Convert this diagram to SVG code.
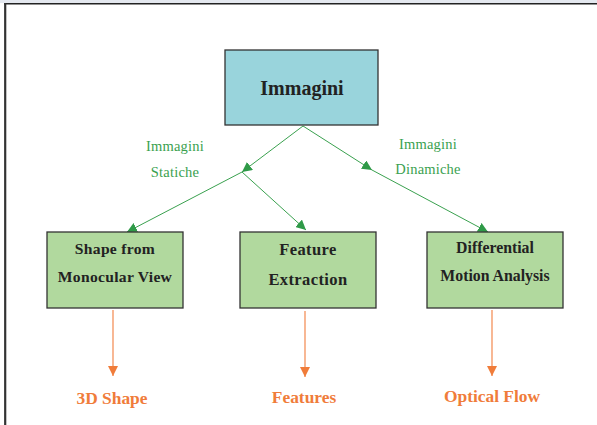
<svg xmlns="http://www.w3.org/2000/svg" width="597" height="425" viewBox="0 0 597 425">
<style>
.box{stroke:#333;stroke-width:1.3}
.top{fill:#99d4dc}
.grn{fill:#b1d99e}
.t{font-family:"Liberation Serif","Times New Roman",serif;font-weight:bold;fill:#222;text-anchor:middle}
.lbl{font-family:"Liberation Serif","Times New Roman",serif;font-size:14.5px;fill:#3aa14f;text-anchor:middle;letter-spacing:0.2px}
.out{font-family:"Liberation Serif","Times New Roman",serif;font-weight:bold;font-size:17.4px;fill:#f07c3a;text-anchor:middle}
.g{stroke:#3aa14f;stroke-width:1;fill:none}
.o{stroke:#f6a67a;stroke-width:1.6;fill:none}
</style>
<defs>
<marker id="ga" viewBox="0 0 10 10" refX="10" refY="5" markerWidth="10" markerHeight="10" markerUnits="userSpaceOnUse" orient="auto">
<path d="M0,0 L10,5 L0,10 z" fill="#2f9a48"/>
</marker>
<marker id="oa" viewBox="0 0 10 10" refX="10" refY="5" markerWidth="10" markerHeight="14" markerUnits="userSpaceOnUse" orient="auto">
<path d="M0,0 L10,5 L0,10 z" fill="#f07c3a"/>
</marker>
</defs>
<rect x="0" y="0" width="597" height="3" fill="#e4e8ef"/>
<line x1="4" y1="3.8" x2="597" y2="3.8" stroke="#222" stroke-width="1.6"/>
<line x1="5.2" y1="3" x2="5.2" y2="425" stroke="#333" stroke-width="2.2"/>

<g id="connectors">
<line class="g" x1="303" y1="126" x2="242" y2="172" marker-end="url(#ga)"/>
<line class="g" x1="242" y1="172" x2="127" y2="232" marker-end="url(#ga)"/>
<line class="g" x1="242" y1="172" x2="306" y2="230" marker-end="url(#ga)"/>
<line class="g" x1="303" y1="126" x2="372" y2="170" marker-end="url(#ga)"/>
<line class="g" x1="372" y1="170" x2="488" y2="232" marker-end="url(#ga)"/>
<line class="o" x1="113" y1="310" x2="113" y2="376" marker-end="url(#oa)"/>
<line class="o" x1="305" y1="311" x2="305" y2="377" marker-end="url(#oa)"/>
<line class="o" x1="492" y1="310" x2="492" y2="376" marker-end="url(#oa)"/>
<text class="lbl" x="175" y="151">Immagini</text>
<text class="lbl" x="175" y="177">Statiche</text>
<text class="lbl" x="428" y="149">Immagini</text>
<text class="lbl" x="428" y="174">Dinamiche</text>
</g>

<g id="immagini">
<rect class="box top" x="225" y="50" width="153" height="75"/>
<text class="t" x="302" y="95" font-size="20">Immagini</text>
</g>
<g id="shape">
<rect class="box grn" x="47" y="232" width="136" height="76"/>
<text class="t" x="115" y="254" font-size="15.6" letter-spacing="0.3">Shape from</text>
<text class="t" x="115" y="282" font-size="15.6" letter-spacing="0.3">Monocular View</text>
</g>
<g id="feature">
<rect class="box grn" x="240" y="232" width="136" height="76"/>
<text class="t" x="308" y="255" font-size="16.5" letter-spacing="0.4">Feature</text>
<text class="t" x="308" y="285" font-size="16.5" letter-spacing="0.4">Extraction</text>
</g>
<g id="differential">
<rect class="box grn" x="427" y="232" width="136" height="76"/>
<text class="t" x="495" y="253" font-size="15.8">Differential</text>
<text class="t" x="495" y="281" font-size="15.8">Motion Analysis</text>
</g>
<g id="out3d"><text class="out" x="112" y="404">3D Shape</text></g>
<g id="outfeat"><text class="out" x="304" y="403">Features</text></g>
<g id="outflow"><text class="out" x="492" y="402">Optical Flow</text></g>
</svg>
